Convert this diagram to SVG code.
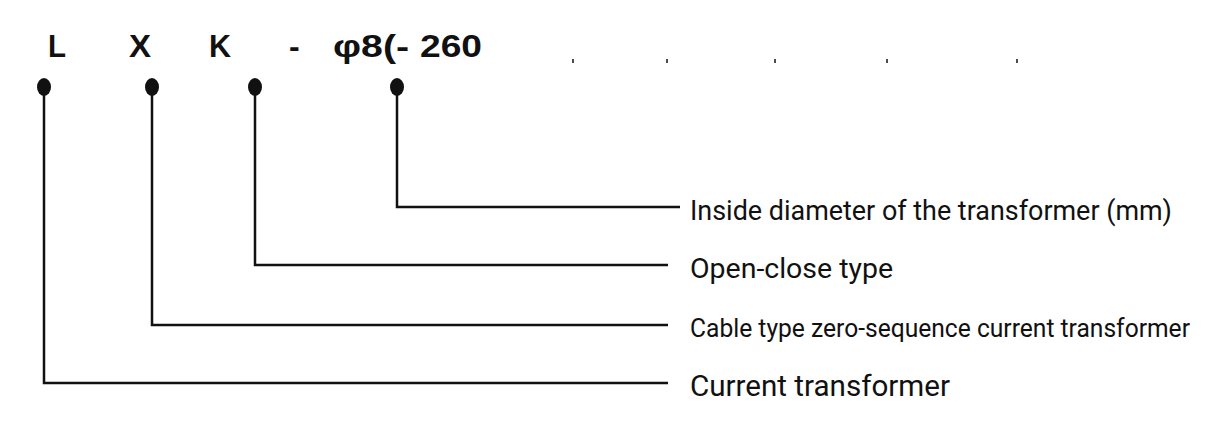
<svg xmlns="http://www.w3.org/2000/svg" width="1207" height="443" viewBox="0 0 1207 443">
<style>
.t{font-family:"Liberation Sans",Arial,sans-serif;font-weight:bold;font-size:32px;fill:#111}
.l{font-family:"Roboto","Liberation Sans",sans-serif;fill:#111}
.c{fill:none;stroke:#111;stroke-width:2.5}
.d{fill:#111}
</style>
<rect width="1207" height="443" fill="#fff"/>
<g id="title">
<text class="t" x="48" y="57" textLength="18" lengthAdjust="spacingAndGlyphs">L</text>
<text class="t" x="129" y="57" textLength="22" lengthAdjust="spacingAndGlyphs">X</text>
<text class="t" x="209" y="57" textLength="22" lengthAdjust="spacingAndGlyphs">K</text>
<text class="t" x="289" y="57">-</text>
<text class="t" x="333" y="57" textLength="76" lengthAdjust="spacingAndGlyphs">φ8(-</text>
<text class="t" x="420" y="57" textLength="62" lengthAdjust="spacingAndGlyphs">260</text>
<g stroke="#111" stroke-width="1.5"><line x1="573" y1="59" x2="573" y2="63"/><line x1="667" y1="59" x2="667" y2="63"/><line x1="775" y1="59" x2="775" y2="63"/><line x1="887" y1="59" x2="887" y2="63"/><line x1="1017" y1="59" x2="1017" y2="63"/></g>
</g>
<g id="connectors">
<path class="c" d="M44 87V383H668"/>
<path class="c" d="M152 87V325H668"/>
<path class="c" d="M255 87V265H668"/>
<path class="c" d="M397 87V207H680"/>
</g>
<g id="n1"><ellipse class="d" cx="44" cy="87" rx="7" ry="9"/><text class="l" x="690" y="396" font-size="30" textLength="260" lengthAdjust="spacingAndGlyphs">Current transformer</text></g>
<g id="n2"><ellipse class="d" cx="152" cy="87" rx="7" ry="9"/><text class="l" x="690" y="337" font-size="25" textLength="500" lengthAdjust="spacingAndGlyphs">Cable type zero-sequence current transformer</text></g>
<g id="n3"><ellipse class="d" cx="255" cy="87" rx="7" ry="9"/><text class="l" x="690" y="278" font-size="27" textLength="203" lengthAdjust="spacingAndGlyphs">Open-close type</text></g>
<g id="n4"><ellipse class="d" cx="397" cy="87" rx="7" ry="9"/><text class="l" x="690" y="220" font-size="27" textLength="482" lengthAdjust="spacingAndGlyphs">Inside diameter of the transformer (mm)</text></g>
</svg>
